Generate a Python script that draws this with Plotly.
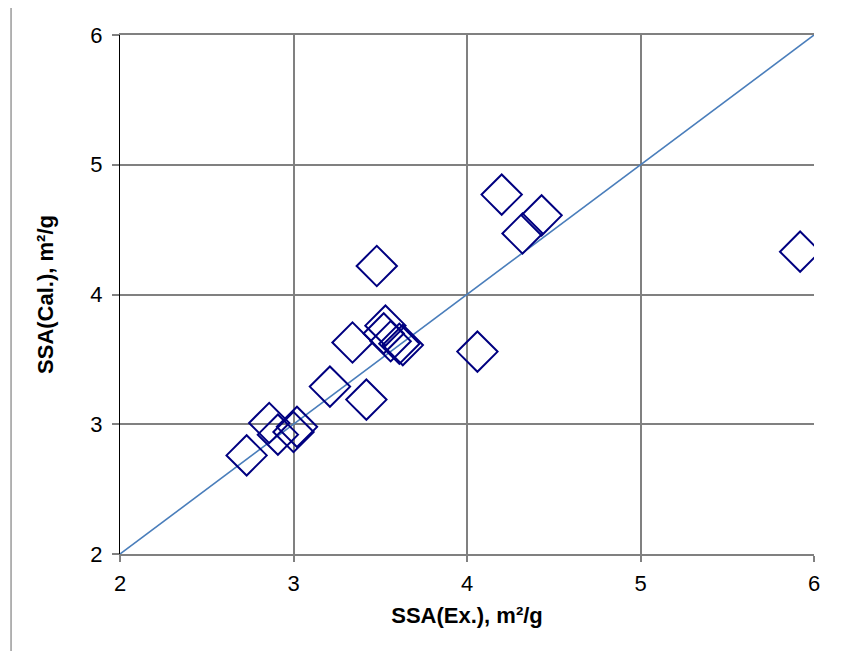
import plotly.graph_objects as go

ssa_ex = [2.73, 2.86, 2.91, 3.00, 3.02, 3.21, 3.34, 3.42, 3.48, 3.52, 3.53, 3.56, 3.61, 3.63, 4.06, 4.20, 4.32, 4.43, 5.92]
ssa_cal = [2.76, 3.01, 2.92, 2.94, 2.98, 3.29, 3.63, 3.19, 4.22, 3.70, 3.76, 3.64, 3.62, 3.61, 3.56, 4.77, 4.47, 4.61, 4.33]
line_x = [2, 6]
line_y = [2, 6]
tick_vals = [2, 3, 4, 5, 6]

fig = go.Figure()
fig.add_trace(go.Scatter(x=line_x, y=line_y, mode="lines",
                         line=dict(color="#4A7EBB", width=1.6), showlegend=False, hoverinfo="skip"))
fig.add_trace(go.Scatter(x=ssa_ex, y=ssa_cal, mode="markers",
                         marker=dict(symbol="diamond-open", size=31, color="#000080",
                                     line=dict(color="#000080", width=2)),
                         showlegend=False))

axis_font = dict(family="Liberation Sans, Arial, sans-serif", size=22, color="black")
title_font = dict(family="Liberation Sans, Arial, sans-serif", size=22, color="black")

fig.update_xaxes(range=[2, 6], tickvals=tick_vals, showgrid=True, gridcolor="#808080", gridwidth=1.5,
                 zeroline=False, showline=True, linecolor="#808080", linewidth=1.5, mirror=True,
                 ticks="outside", ticklen=6, tickcolor="#808080", tickwidth=1.5,
                 tickfont=axis_font, ticklabelstandoff=3,
                 title=dict(text="<b>SSA(Ex.), m²/g</b>", font=title_font, standoff=12))
fig.update_yaxes(range=[2, 6], tickvals=tick_vals, showgrid=True, gridcolor="#808080", gridwidth=1.5,
                 zeroline=False, showline=True, linecolor="black", linewidth=1.2, mirror=False,
                 ticks="outside", ticklen=7, tickcolor="#808080", tickwidth=1.5,
                 tickfont=axis_font, ticklabelstandoff=5,
                 title=dict(text="<b>SSA(Cal.), m²/g</b>", font=title_font, standoff=30))

fig.update_layout(
    width=834, height=643,
    margin=dict(l=112, r=28, t=27, b=97),
    plot_bgcolor="white", paper_bgcolor="white",
    shapes=[
        dict(type="line", xref="paper", yref="paper", x0=-0.157, x1=1.05, y0=1.054, y1=1.054,
             line=dict(color="#E0E0E0", width=1)),
        dict(type="line", xref="paper", yref="paper", x0=-0.157, x1=-0.157, y0=1.054, y1=-0.19,
             line=dict(color="#808080", width=1.2)),
    ],
)

fig.write_html("out.html")
